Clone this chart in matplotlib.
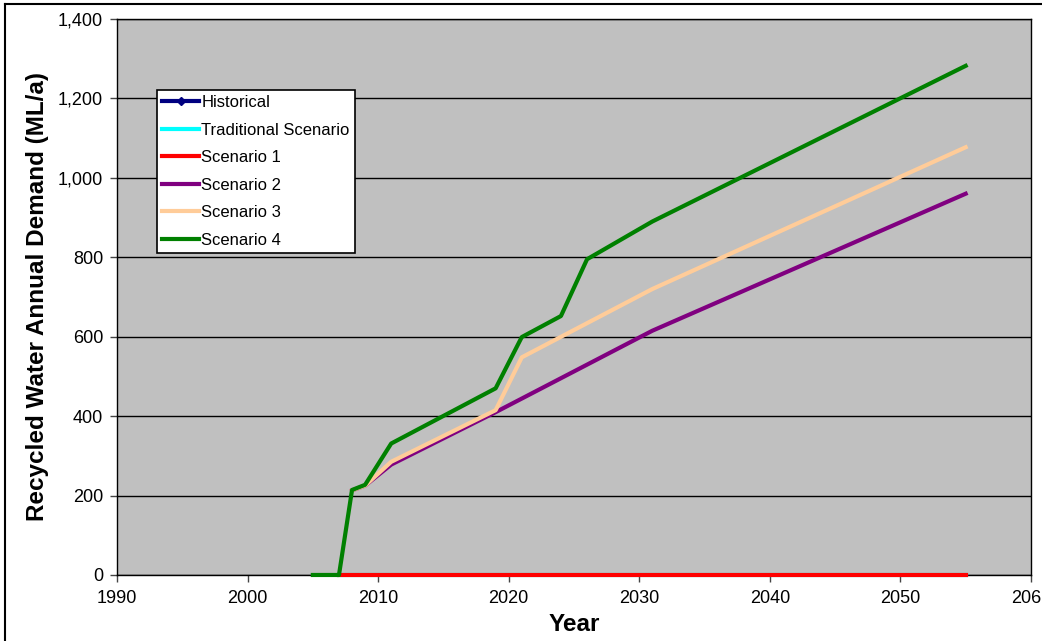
import matplotlib.pyplot as plt
from matplotlib.lines import Line2D
from matplotlib.ticker import FuncFormatter

plt.rcParams['font.family'] = ['Liberation Sans', 'DejaVu Sans']

# values (ML/a)
hist_years = []
hist_vals = []
trad_years = [2007, 2055]
trad_vals = [0, 0]
s1_years = [2007, 2055]
s1_vals = [0, 0]
s2_years = [2008, 2009, 2011, 2019, 2031, 2055]
s2_vals = [213, 225, 278, 410, 615, 960]
s3_years = [2008, 2009, 2011, 2019, 2021, 2031, 2055]
s3_vals = [213, 225, 285, 415, 548, 720, 1077]
s4_years = [2005, 2007, 2008, 2009, 2011, 2019, 2021, 2024, 2026, 2031, 2055]
s4_vals = [0, 0, 214, 227, 331, 470, 599, 652, 795, 890, 1282]

fig = plt.figure(figsize=(10.42, 6.41), dpi=100)
ax = fig.add_axes([0.1123, 0.103, 0.8771, 0.8674])
ax.set_facecolor('#C0C0C0')

lw = 3
kw = dict(lw=lw, clip_on=False, zorder=3)
ax.plot(hist_years, hist_vals, color='#000080', marker='D', ms=4, label='Historical', **kw)
ax.plot(trad_years, trad_vals, color='#00FFFF', label='Traditional Scenario', **kw)
ax.plot(s1_years, s1_vals, color='#FF0000', label='Scenario 1', **kw)
ax.plot(s2_years, s2_vals, color='#800080', label='Scenario 2', **kw)
ax.plot(s3_years, s3_vals, color='#FFCC99', label='Scenario 3', **kw)
ax.plot(s4_years, s4_vals, color='#008000', label='Scenario 4', **kw)

ax.set_xlim(1990, 2060)
ax.set_ylim(0, 1400)
ax.set_xticks(range(1990, 2061, 10))
ax.set_yticks(range(0, 1401, 200))
ax.yaxis.set_major_formatter(FuncFormatter(lambda v, p: f'{int(v):,}'))
ax.grid(axis='y', color='black', lw=1)
ax.set_axisbelow(True)
ax.tick_params(labelsize=13, length=5, width=1, color='#444444')
ax.tick_params(axis='x', pad=6)
ax.tick_params(axis='y', pad=5)
for s in ax.spines.values():
    s.set_color('black')
    s.set_linewidth(1)

ax.set_xlabel('Year', fontsize=17.5, fontweight='bold')
ax.set_ylabel('Recycled Water Annual Demand (ML/a)', fontsize=17.5, fontweight='bold')
ax.xaxis.set_label_coords(0.5, -0.069)
ax.yaxis.set_label_coords(-0.074, 0.5)

leg = ax.legend(loc='upper left', bbox_to_anchor=(0.044, 0.872), borderaxespad=0,
                prop={'size': 12}, handlelength=2.2, handletextpad=0.15, labelspacing=0.75,
                fancybox=False, framealpha=1, edgecolor='black', borderpad=0.3)
leg.get_frame().set_linewidth(1.2)
leg.set_zorder(5)

# outer chart border (left and top visible in the reference)
fig.add_artist(Line2D([0.005, 0.005], [0.0, 0.993], color='black', lw=1.5))
fig.add_artist(Line2D([0.005, 1.0], [0.993, 0.993], color='black', lw=1.5))

fig.savefig('out.png', dpi=100)
